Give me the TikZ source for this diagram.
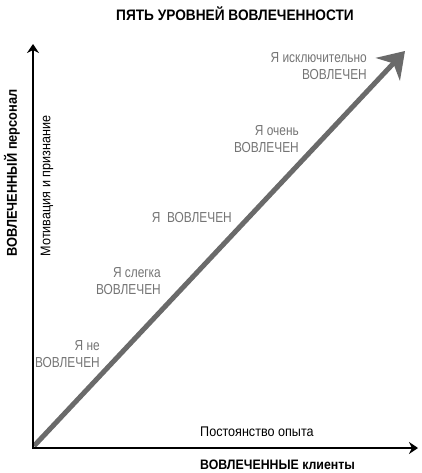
\documentclass[tikz,border=0pt]{standalone}
\usepackage{fontspec}
\setmainfont{Liberation Sans}[FakeStretch=0.9]
\newfontfamily\lvlfont{Liberation Sans}[FakeStretch=0.82]
\usetikzlibrary{arrows.meta}
\definecolor{lvlgray}{HTML}{747474}
\definecolor{arrgray}{HTML}{6A6A6A}
\tikzset{
  level/.style={inner sep=0pt, align=right, anchor=north east, text=lvlgray,
    font=\lvlfont\fontsize{14.5}{17}\selectfont},
  axis/.style={line width=2pt, black, -{Stealth[length=9pt,width=12pt,inset=3pt]}},
  diag/.style={line width=5pt, arrgray, -{Stealth[length=25pt,width=33pt,inset=8pt]}},
  axlabel/.style={inner sep=0pt, font=\fontsize{14}{16}\selectfont},
  boldlabel/.style={inner sep=0pt, font=\fontsize{13.7}{16}\selectfont\bfseries},
}
\begin{document}
\begin{tikzpicture}[x=1pt,y=-1pt]
\useasboundingbox (0,0) rectangle (421,473);
\node[inner sep=0pt, font=\fontsize{15.2}{17}\selectfont\bfseries] (title) at (235,13.5) {ПЯТЬ УРОВНЕЙ ВОВЛЕЧЕННОСТИ};
\coordinate (O) at (33,448);
\coordinate (Ytop) at (33,44);
\coordinate (Xend) at (418,448);
\coordinate (Dstart) at (34,446);
\coordinate (Dend) at (405,51);
\draw[diag] (Dstart) -- (Dend);
\draw[axis] ([yshift=-1pt]O) -- (Ytop);
\draw[axis] ([xshift=-1pt]O) -- (Xend);
\node[level] (l5) at (367,52) {Я исключительно\\ВОВЛЕЧЕН};
\node[level] (l4) at (299,125) {Я очень\\ВОВЛЕЧЕН};
\node[level] (l3) at (232,212) {Я\ \ ВОВЛЕЧЕН};
\node[level] (l2) at (161,267) {Я слегка\\ВОВЛЕЧЕН};
\node[level] (l1) at (100,340) {Я не\\ВОВЛЕЧЕН};
\node[axlabel, anchor=north west] (xsub) at (200,427) {Постоянство опыта};
\node[boldlabel, anchor=north west] (xlab) at (200,460) {ВОВЛЕЧЕННЫЕ клиенты};
\node[inner sep=0pt, font=\fontsize{14.25}{16}\selectfont\bfseries, rotate=90] (ylab) at (12,173) {ВОВЛЕЧЕННЫЙ персонал};
\node[axlabel, rotate=90] (ysub) at (47,186) {Мотивация и признание};
\end{tikzpicture}
\end{document}
